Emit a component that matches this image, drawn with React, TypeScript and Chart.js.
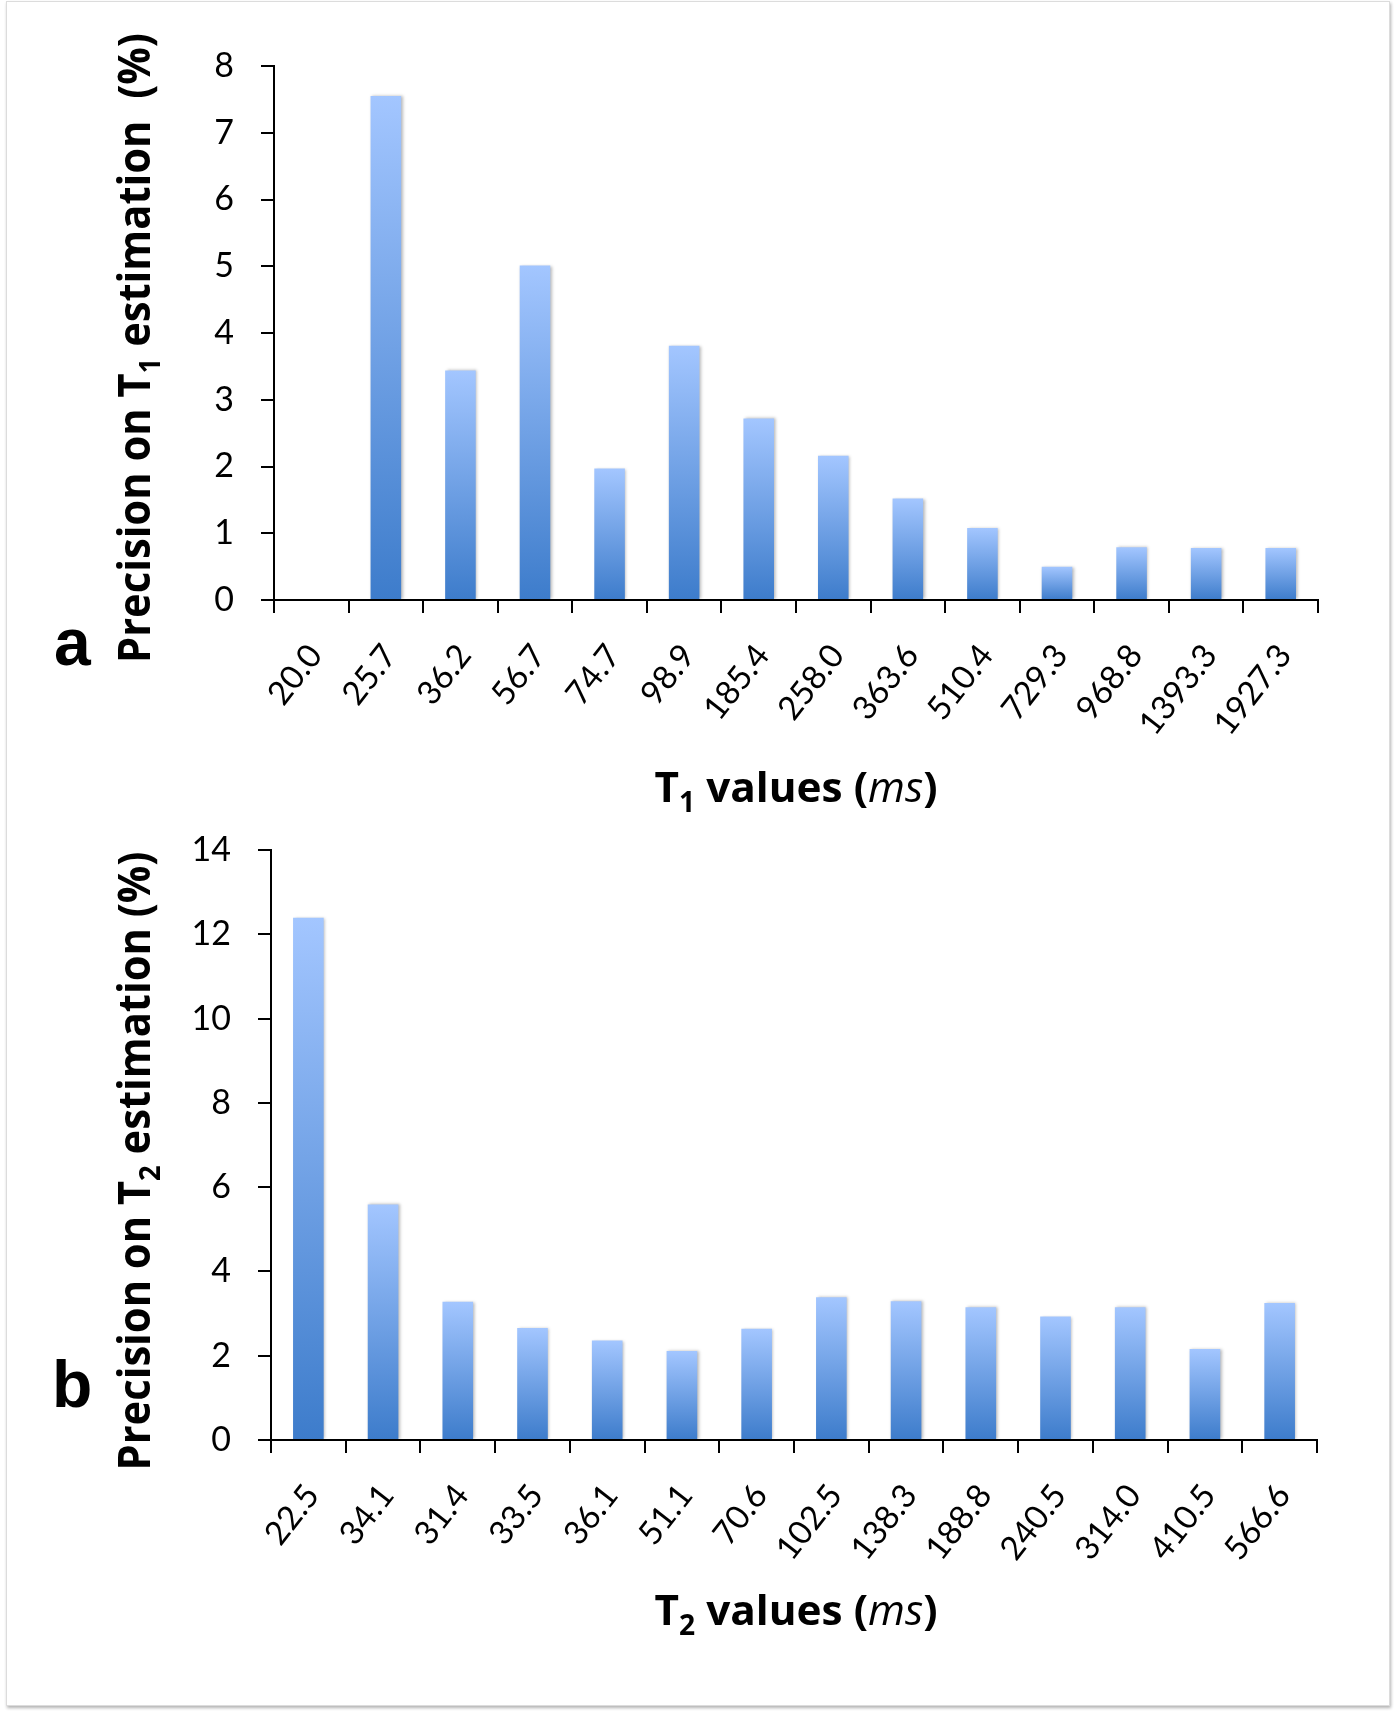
import React, { useEffect, useRef } from 'react';
import { Chart, registerables } from 'chart.js';
Chart.register(...registerables);

const t1Labels = ['20.0', '25.7', '36.2', '56.7', '74.7', '98.9', '185.4', '258.0', '363.6', '510.4', '729.3', '968.8', '1393.3', '1927.3'];
const t1Values = [0, 7.55, 3.44, 5.01, 1.97, 3.81, 2.72, 2.16, 1.52, 1.08, 0.5, 0.79, 0.78, 0.78];
const t1Ticks = { max: 8, step: 1 };

const t2Labels = ['22.5', '34.1', '31.4', '33.5', '36.1', '51.1', '70.6', '102.5', '138.3', '188.8', '240.5', '314.0', '410.5', '566.6'];
const t2Values = [12.39, 5.59, 3.28, 2.66, 2.36, 2.11, 2.64, 3.39, 3.29, 3.15, 2.93, 3.15, 2.16, 3.25];
const t2Ticks = { max: 14, step: 2 };

const W = 1394;
const TICK_FONT = 'Lato';
const TITLE_FONT = '"Open Sans"';

type Seg = { text: string; font: string; dy: number };

function drawSegs(ctx: CanvasRenderingContext2D, segs: Seg[], cx: number, baseY: number, target: number) {
  const widths = segs.map((s) => {
    ctx.font = s.font;
    return ctx.measureText(s.text).width;
  });
  const total = widths.reduce((a, b) => a + b, 0);
  const k = target / total;
  ctx.save();
  ctx.translate(cx, baseY);
  ctx.scale(k, 1);
  ctx.textAlign = 'left';
  ctx.textBaseline = 'alphabetic';
  ctx.fillStyle = '#000';
  let x = -total / 2;
  segs.forEach((s, i) => {
    ctx.font = s.font;
    ctx.fillText(s.text, x, s.dy);
    x += widths[i];
  });
  ctx.restore();
}

type Cfg = {
  labels: string[];
  values: number[];
  ticks: { max: number; step: number };
  height: number;
  area: { left: number; top: number; right: number; bottom: number };
  sub: string;
  yTitle: { cx: number; cy: number; len: number; tail: string };
  xTitle: { cx: number; base: number; len: number };
  letter: { text: string; x: number; base: number };
};

function buildChart(canvas: HTMLCanvasElement, c: Cfg) {
  const bold = (s: number) => `bold ${s}px ${TITLE_FONT}`;
  const titlePlugin = {
    id: 'titles',
    beforeDatasetsDraw(chart: any) {
      const ctx = chart.ctx;
      ctx.save();
      ctx.shadowColor = 'rgba(0,0,0,0.28)';
      ctx.shadowBlur = 3;
      ctx.shadowOffsetX = 1.5;
      ctx.shadowOffsetY = 0;
    },
    afterDatasetsDraw(chart: any) {
      chart.ctx.restore();
    },
    afterDraw(chart: any) {
      const ctx: CanvasRenderingContext2D = chart.ctx;
      // Y title
      ctx.save();
      ctx.translate(c.yTitle.cx, c.yTitle.cy);
      ctx.rotate(-Math.PI / 2);
      drawSegs(
        ctx,
        [
          { text: 'Precision on T', font: bold(44), dy: 0 },
          { text: c.sub, font: bold(29), dy: 10 },
          { text: c.yTitle.tail, font: bold(44), dy: 0 },
        ],
        0,
        0,
        c.yTitle.len
      );
      ctx.restore();
      // X title
      drawSegs(
        ctx,
        [
          { text: 'T', font: bold(42), dy: 0 },
          { text: c.sub, font: bold(28), dy: 10 },
          { text: ' values (', font: bold(42), dy: 0 },
          { text: 'ms', font: `italic 42px ${TITLE_FONT}`, dy: 0 },
          { text: ')', font: bold(42), dy: 0 },
        ],
        c.xTitle.cx,
        c.xTitle.base,
        c.xTitle.len
      );
      // panel letter
      ctx.save();
      ctx.font = 'bold 66px "Liberation Sans"';
      ctx.fillStyle = '#000';
      ctx.textAlign = 'left';
      ctx.textBaseline = 'alphabetic';
      ctx.fillText(c.letter.text, c.letter.x, c.letter.base);
      ctx.restore();
    },
  };

  return new Chart(canvas, {
    type: 'bar',
    data: {
      labels: c.labels,
      datasets: [
        {
          data: c.values,
          borderWidth: 0,
          barPercentage: 0.41,
          categoryPercentage: 1,
          backgroundColor: (ctxs: any) => {
            const chart = ctxs.chart;
            const scales = chart.scales;
            if (ctxs.type !== 'data' || !scales || !scales.y) return '#6a9be6';
            const v = ctxs.raw as number;
            const y0 = scales.y.getPixelForValue(0);
            const y1 = scales.y.getPixelForValue(v);
            if (!isFinite(y0) || !isFinite(y1) || y0 - y1 < 1) return '#6a9be6';
            const g = chart.ctx.createLinearGradient(0, y1, 0, y0);
            g.addColorStop(0, '#a3c6ff');
            g.addColorStop(1, '#3d7ccb');
            return g;
          },
        },
      ],
    },
    options: {
      animation: false,
      responsive: false,
      maintainAspectRatio: false,
      devicePixelRatio: 1,
      layout: { padding: { left: 0, top: c.area.top, right: W - c.area.right, bottom: 0 } },
      plugins: { legend: { display: false }, tooltip: { enabled: false } },
      scales: {
        x: {
          grid: { display: true, drawOnChartArea: false, offset: true, tickLength: 13, color: '#000', lineWidth: 2 },
          border: { display: true, color: '#000', width: 2 },
          ticks: {
            minRotation: 52,
            maxRotation: 52,
            autoSkip: false,
            color: '#000',
            padding: 24,
            labelOffset: 4,
            font: { family: TICK_FONT, size: 33 },
          },
          afterFit: (s: any) => {
            s.height = c.height - c.area.bottom;
          },
        },
        y: {
          min: 0,
          max: c.ticks.max,
          grid: { display: true, drawOnChartArea: false, tickLength: 13, color: '#000', lineWidth: 2 },
          border: { display: true, color: '#000', width: 2 },
          ticks: {
            stepSize: c.ticks.step,
            color: '#000',
            padding: 27,
            font: { family: TICK_FONT, size: 34 },
          },
          afterFit: (s: any) => {
            s.width = c.area.left;
          },
        },
      },
    },
    plugins: [titlePlugin],
  } as any);
}

const H1 = 820;
const TOP2 = 780;
const H2 = 1718 - TOP2;

function ChartCanvas({ cfg, top }: { cfg: Cfg; top: number }) {
  const ref = useRef<HTMLCanvasElement | null>(null);
  useEffect(() => {
    if (!ref.current) return;
    const ch = buildChart(ref.current, cfg);
    return () => ch.destroy();
  }, []);
  return (
    <canvas
      ref={ref}
      width={W}
      height={cfg.height}
      style={{ position: 'absolute', left: 0, top, width: W, height: cfg.height }}
    />
  );
}

const cfgA: Cfg = {
  labels: t1Labels,
  values: t1Values,
  ticks: t1Ticks,
  height: H1,
  area: { left: 274, top: 66, right: 1318, bottom: 600 },
  sub: '1',
  yTitle: { cx: 150, cy: 348, len: 630, tail: ' estimation  (%)' },
  xTitle: { cx: 796, base: 802, len: 283 },
  letter: { text: 'a', x: 54, base: 665 },
};

const cfgB: Cfg = {
  labels: t2Labels,
  values: t2Values,
  ticks: t2Ticks,
  height: H2,
  area: { left: 271, top: 850 - TOP2, right: 1317, bottom: 1440 - TOP2 },
  sub: '2',
  yTitle: { cx: 150, cy: 1161 - TOP2, len: 619, tail: ' estimation (%)' },
  xTitle: { cx: 796, base: 1625 - TOP2, len: 283 },
  letter: { text: 'b', x: 52, base: 1407 - TOP2 },
};

export default function App() {
  return (
    <div style={{ position: 'absolute', left: 0, top: 0, width: W, height: 1718, background: '#fff', overflow: 'hidden' }}>
      <div
        style={{
          position: 'absolute',
          left: 6,
          top: 1,
          width: 1382,
          height: 1703,
          border: '1px solid #dcdcdc',
          boxShadow: '1px 2px 3px rgba(0,0,0,0.3)',
          background: '#fff',
        }}
      />
      <ChartCanvas cfg={cfgA} top={0} />
      <ChartCanvas cfg={cfgB} top={TOP2} />
    </div>
  );
}
